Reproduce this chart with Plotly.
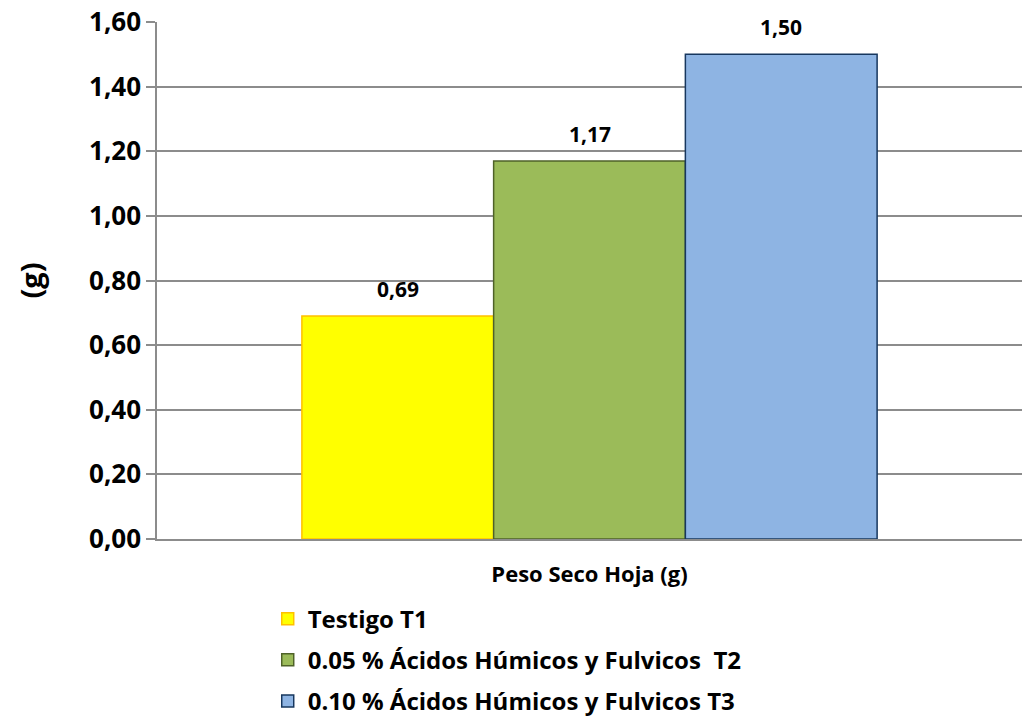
import plotly.graph_objects as go

# Dry leaf weight per treatment
category = ["Peso Seco Hoja (g)"]
treatments = [
    "Testigo T1",
    "0.05 % Ácidos Húmicos y Fulvicos  T2",
    "0.10 % Ácidos Húmicos y Fulvicos T3",
]
values = [0.69, 1.17, 1.50]
fill_colors = ["#FFFF00", "#9BBB59", "#8EB4E3"]
line_colors = ["#FFC000", "#4F6228", "#17375E"]
y_ticks = [0.0, 0.2, 0.4, 0.6, 0.8, 1.0, 1.2, 1.4, 1.6]

FONT = "'Open Sans', sans-serif"
BAR_GAP = 0.335

fig = go.Figure()
for i, name in enumerate(treatments):
    fig.add_trace(go.Bar(
        x=category,
        y=[values[i]],
        name=f"<b>{name}</b>",
        legendgroup=name,
        marker=dict(color=fill_colors[i], line=dict(color=line_colors[i], width=1.5)),
    ))

# Value labels centred over each bar of the group
n = len(treatments)
group_w = 1 - BAR_GAP
bar_w = group_w / n
for i, v in enumerate(values):
    xc = -group_w / 2 + bar_w * (i + 0.5)
    fig.add_annotation(
        x=xc, y=v, xref="x", yref="y",
        text=f"<b>{v:.2f}</b>".replace(".", ","),
        showarrow=False,
        yanchor="bottom",
        yshift=11,
        font=dict(family=FONT, size=21, color="#000000"),
    )

fig.update_layout(
    width=1022,
    height=717,
    paper_bgcolor="white",
    plot_bgcolor="white",
    separators=",.",
    barmode="group",
    bargap=BAR_GAP,
    bargroupgap=0,
    margin=dict(l=157, r=0, t=22, b=178),
    font=dict(family=FONT, color="#000000"),
    legend=dict(
        orientation="v",
        x=0.128,
        xanchor="left",
        xref="paper",
        yref="container",
        y=0.168,
        yanchor="top",
        font=dict(family=FONT, size=24, color="#000000"),
        tracegroupgap=7,
        bgcolor="rgba(0,0,0,0)",
    ),
    showlegend=True,
)

fig.update_yaxes(
    range=[0, 1.6],
    tickvals=y_ticks,
    tickformat=".2f",
    showgrid=True,
    gridcolor="#8C8C8C",
    gridwidth=1.5,
    showline=True,
    linecolor="#8C8C8C",
    linewidth=1.5,
    ticks="outside",
    ticklen=9,
    tickcolor="#8C8C8C",
    tickwidth=1.5,
    tickfont=dict(family=FONT, size=26, color="#000000", weight="bold"),
    zeroline=False,
    title=dict(text="<b>(g)</b>", font=dict(family=FONT, size=29, color="#000000"), standoff=38),
)

fig.update_xaxes(
    range=[-0.5, 0.5],
    showline=True,
    linecolor="#8C8C8C",
    linewidth=1.5,
    ticks="",
    ticklabelstandoff=15,
    tickfont=dict(family=FONT, size=22, color="#000000", weight="bold"),
    showgrid=False,
)

fig.write_html("out.html")
